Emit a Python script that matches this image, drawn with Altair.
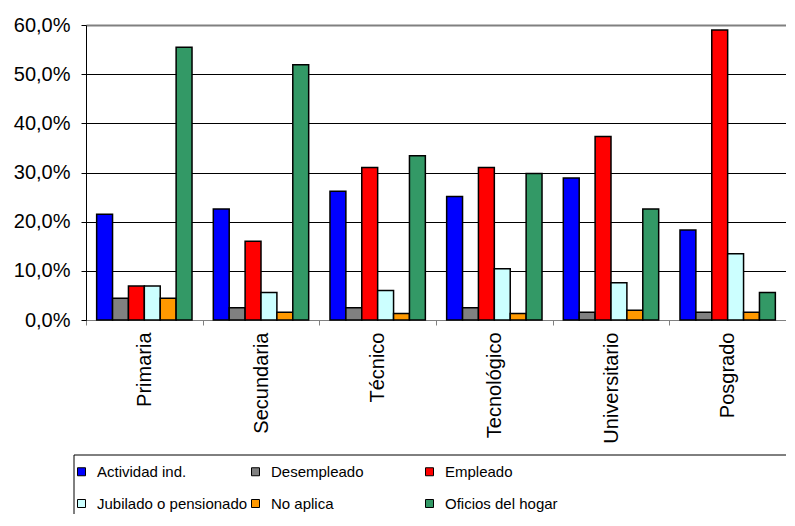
import altair as alt
import pandas as pd

niveles = ["Primaria", "Secundaria", "Técnico", "Tecnológico", "Universitario", "Posgrado"]
series = ["Actividad ind.", "Desempleado", "Empleado", "Jubilado o pensionado", "No aplica", "Oficios del hogar"]
actividad = [21.5, 22.6, 26.2, 25.1, 28.9, 18.3]
desempleado = [4.4, 2.5, 2.5, 2.5, 1.6, 1.6]
empleado = [6.9, 16.0, 31.0, 31.0, 37.3, 59.0]
jubilado = [6.9, 5.6, 6.0, 10.4, 7.6, 13.5]
no_aplica = [4.4, 1.6, 1.3, 1.3, 2.0, 1.6]
oficios = [55.5, 51.9, 33.4, 29.8, 22.6, 5.6]
colores = ["#0000FF", "#808080", "#FF0000", "#CCFFFF", "#FF9900", "#339966"]
y_ticks = [0, 0.1, 0.2, 0.3, 0.4, 0.5, 0.6]

valores = [actividad, desempleado, empleado, jubilado, no_aplica, oficios]
rows = []
for s, vals in zip(series, valores):
    for n, v in zip(niveles, vals):
        rows.append({"nivel": n, "serie": s, "valor": v / 100})
df = pd.DataFrame(rows)

FONT = "Liberation Sans"

bars = alt.Chart(df).mark_bar(stroke="black", strokeWidth=1.5).encode(
    x=alt.X("nivel:N", sort=niveles, title=None,
            scale=alt.Scale(paddingInner=0, paddingOuter=0),
            axis=alt.Axis(labelAngle=-90, labelFontSize=20, labelColor="black",
                          labelPadding=7, tickBand="extent", tickSize=5,
                          tickColor="#808080", domainColor="#808080",
                          grid=False, labelFont=FONT)),
    xOffset=alt.XOffset("serie:N", sort=series,
                        scale=alt.Scale(paddingInner=0, paddingOuter=0.67)),
    y=alt.Y("valor:Q", title=None,
            scale=alt.Scale(domain=[0, 0.6], nice=False),
            axis=alt.Axis(values=y_ticks,
                          labelExpr="replace(format(datum.value, '.1%'), '.', ',')",
                          labelFontSize=20, labelColor="black", labelPadding=11,
                          tickSize=5, tickColor="black", domainColor="black",
                          gridColor={"condition": {"test": "datum.value >= 0.6", "value": "#808080"}, "value": "black"},
                          gridWidth={"condition": {"test": "datum.value >= 0.6", "value": 2}, "value": 1},
                          labelFont=FONT)),
    color=alt.Color("serie:N", sort=series,
                    scale=alt.Scale(domain=series, range=colores),
                    legend=alt.Legend(title=None, orient="none", legendX=-12, legendY=439,
                                      direction="horizontal", columns=3, gridAlign="all",
                                      symbolType="square", symbolSize=64,
                                      symbolStrokeColor="black", symbolStrokeWidth=1,
                                      labelFontSize=15, labelColor="black", labelFont=FONT,
                                      labelOffset=8, columnPadding=0, rowPadding=16,
                                      padding=0, labelLimit=300)),
)

frame = alt.Chart(pd.DataFrame({"a": [0]})).mark_rect(filled=False, color="black", strokeWidth=1).encode(
    x=alt.value(-12), x2=alt.value(740), y=alt.value(430), y2=alt.value(520)
)

chart = alt.layer(frame, bars).properties(
    width=700, height=295,
    padding={"left": 78, "top": 17, "right": 0, "bottom": 194},
    autosize=alt.AutoSizeParams(type="none"),
).configure_view(stroke=None).configure(font=FONT)

chart.save("out.html", embed_options={"renderer": "svg", "actions": False})
